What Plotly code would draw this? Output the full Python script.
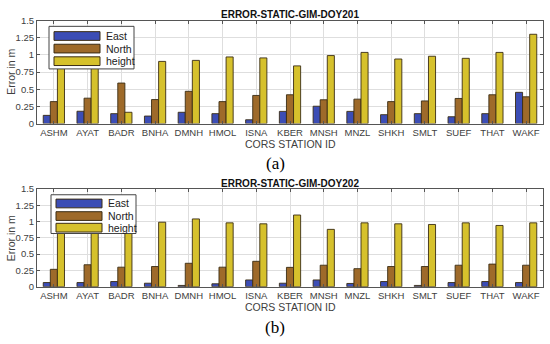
import plotly.graph_objects as go

stations = ["ASHM", "AYAT", "BADR", "BNHA", "DMNH", "HMOL", "ISNA", "KBER",
            "MNSH", "MNZL", "SHKH", "SMLT", "SUEF", "THAT", "WAKF"]
series_names = ["East", "North", "height"]

east_201 = [0.12, 0.18, 0.145, 0.11, 0.165, 0.145, 0.056, 0.178, 0.253, 0.178, 0.13, 0.145, 0.10, 0.145, 0.455]
north_201 = [0.32, 0.37, 0.59, 0.35, 0.47, 0.32, 0.41, 0.42, 0.347, 0.356, 0.32, 0.33, 0.366, 0.42, 0.39]
height_201 = [0.88, 0.93, 0.165, 0.905, 0.92, 0.97, 0.956, 0.84, 0.99, 1.036, 0.94, 0.98, 0.95, 1.036, 1.30]

east_202 = [0.064, 0.064, 0.08, 0.054, 0.02, 0.045, 0.104, 0.054, 0.104, 0.05, 0.08, 0.02, 0.064, 0.08, 0.064]
north_202 = [0.267, 0.337, 0.30, 0.31, 0.36, 0.30, 0.39, 0.297, 0.33, 0.277, 0.31, 0.31, 0.33, 0.347, 0.33]
height_202 = [0.97, 0.98, 0.95, 0.99, 1.04, 0.98, 0.965, 1.10, 0.88, 0.98, 0.965, 0.955, 0.98, 0.94, 0.98]

y_ticks = [0, 0.25, 0.5, 0.75, 1, 1.25, 1.5]
y_tick_text = ["0", "0.25", "0.5", "0.75", "1", "1.25", "1.5"]

titles = ["ERROR-STATIC-GIM-DOY201", "ERROR-STATIC-GIM-DOY202"]
panel_labels = ["(a)", "(b)"]
colors = ["#3c4db5", "#9e6a2a", "#d6c12c"]

W, H = 550, 344
def px(x): return x / W
def py(y): return 1 - y / H

fig = go.Figure()
panels = [
    (east_201, north_201, height_201),
    (east_202, north_202, height_202),
]
for p, data in enumerate(panels):
    xa = "x" if p == 0 else "x2"
    ya = "y" if p == 0 else "y2"
    for name, vals, col in zip(series_names, data, colors):
        fig.add_trace(go.Bar(
            x=stations, y=vals, name=name, xaxis=xa, yaxis=ya,
            marker=dict(color=col, line=dict(color="#3a2c14", width=0.9)),
            showlegend=False,
        ))

text_col = "#404040"
font = "Liberation Sans, Arial, sans-serif"
axis_common = dict(
    showline=True, linecolor="#555555", linewidth=1, mirror="ticks",
    ticks="inside", ticklen=3, tickcolor="#555555",
    showgrid=True, gridcolor="#dedede", gridwidth=1,
    tickfont=dict(family=font, size=9.5, color=text_col),
    zeroline=False,
)
x_dom = [px(37), px(543)]
y_doms = [[py(121.5), py(15)], [py(290), py(189)]]

layout = dict(
    width=W, height=H,
    margin=dict(l=0, r=0, t=0, b=0),
    paper_bgcolor="white", plot_bgcolor="white",
    barmode="group", bargap=0.37, bargroupgap=0,
    showlegend=False,
    xaxis=dict(domain=x_dom, anchor="y", range=[-0.5, 14.5], **axis_common),
    yaxis=dict(domain=y_doms[0], anchor="x", range=[0, 1.5], tickvals=y_ticks,
               ticktext=y_tick_text, **axis_common),
    xaxis2=dict(domain=x_dom, anchor="y2", range=[-0.5, 14.5], **axis_common),
    yaxis2=dict(domain=y_doms[1], anchor="x2", range=[0, 1.5], tickvals=y_ticks,
                ticktext=y_tick_text, **axis_common),
)
fig.update_layout(**layout)

annotations = []
shapes = []
title_y = [9, 183]
xtitle_y = [143, 311]
ytitle_center = [68, 240]
label_y = [163, 332]
legend_box = [(49, 21, 134, 65), (51, 195, 136, 235)]
legend_rows = [[31, 44, 57], [204, 217, 229]]

for p in range(2):
    annotations.append(dict(
        text="<b>" + titles[p] + "</b>", x=px(290), y=py(title_y[p]),
        xref="paper", yref="paper", showarrow=False, xanchor="center", yanchor="middle",
        font=dict(family=font, size=10, color="#111111")))
    annotations.append(dict(
        text="CORS STATION ID", x=px(290), y=py(xtitle_y[p]),
        xref="paper", yref="paper", showarrow=False, xanchor="center", yanchor="middle",
        font=dict(family=font, size=10.5, color=text_col)))
    annotations.append(dict(
        text="Error in m", x=px(11), y=py(ytitle_center[p]), textangle=-90,
        xref="paper", yref="paper", showarrow=False, xanchor="center", yanchor="middle",
        font=dict(family=font, size=10.5, color=text_col)))
    annotations.append(dict(
        text=panel_labels[p], x=px(275), y=py(label_y[p]),
        xref="paper", yref="paper", showarrow=False, xanchor="center", yanchor="middle",
        font=dict(family="Liberation Serif, Times New Roman, serif", size=17, color="#000000")))
    # legend
    x0, y0, x1, y1 = legend_box[p]
    shapes.append(dict(type="rect", xref="paper", yref="paper", layer="above",
                       x0=px(x0), x1=px(x1), y0=py(y1), y1=py(y0),
                       line=dict(color="#444444", width=1), fillcolor="white"))
    for i, name in enumerate(series_names):
        ry = legend_rows[p][i]
        sx0 = x0 + 5
        shapes.append(dict(type="rect", xref="paper", yref="paper", layer="above",
                           x0=px(sx0), x1=px(sx0 + 46), y0=py(ry + 4.5), y1=py(ry - 4.5),
                           line=dict(color="#3a2c14", width=1), fillcolor=colors[i]))
        annotations.append(dict(
            text=name, x=px(sx0 + 50), y=py(ry), xref="paper", yref="paper",
            showarrow=False, xanchor="left", yanchor="middle",
            font=dict(family=font, size=10.5, color="#222222")))

fig.update_layout(annotations=annotations, shapes=shapes)
fig.write_html("out.html", config={"displayModeBar": False},
               post_script="document.body.style.margin='0px';document.body.style.overflow='hidden';")
